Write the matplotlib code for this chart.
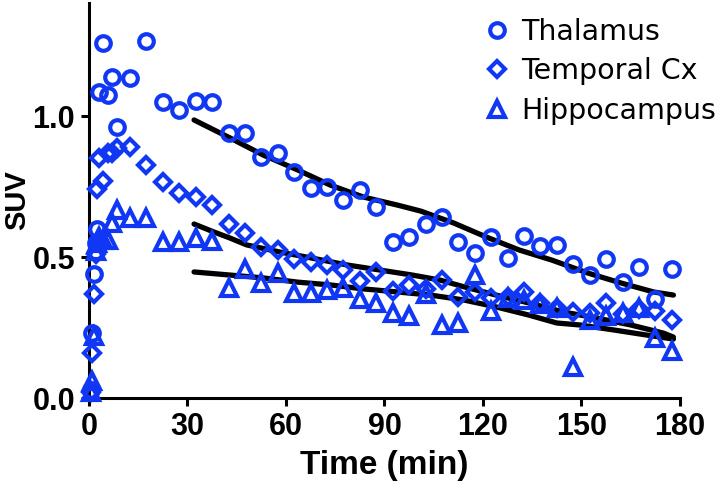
import matplotlib.pyplot as plt

# frame mid-times (min)
time = [0.5, 1.0, 1.5, 2.0, 2.5, 3.0, 4.3, 5.8, 7.0, 8.5, 12.5, 17.5,
        22.5, 27.5, 32.5, 37.5, 42.5, 47.5, 52.5, 57.5, 62.5, 67.5, 72.5,
        77.5, 82.5, 87.5, 92.5, 97.5, 102.5, 107.5, 112.5, 117.5, 122.5,
        127.5, 132.5, 137.5, 142.5, 147.5, 152.5, 157.5, 162.5, 167.5,
        172.5, 177.5]

thalamus = [0.03, 0.23, 0.44, 0.55, 0.60, 1.085, 1.26, 1.075, 1.14, 0.96, 1.135, 1.265,
            1.05, 1.02, 1.055, 1.05, 0.94, 0.94, 0.855, 0.869, 0.80, 0.745, 0.748,
            0.703, 0.738, 0.677, 0.553, 0.571, 0.617, 0.642, 0.553, 0.516, 0.571,
            0.498, 0.576, 0.539, 0.543, 0.477, 0.436, 0.493, 0.411, 0.465, 0.35, 0.456]

temporal = [0.02, 0.16, 0.37, 0.51, 0.74, 0.85, 0.77, 0.87, 0.87, 0.887, 0.89, 0.826,
            0.766, 0.727, 0.713, 0.684, 0.618, 0.585, 0.535, 0.525, 0.493, 0.482, 0.47,
            0.455, 0.415, 0.447, 0.38, 0.40, 0.387, 0.418, 0.358, 0.376, 0.355,
            0.358, 0.376, 0.338, 0.319, 0.305, 0.30, 0.337, 0.297, 0.315, 0.31, 0.275]

hippocampus = [0.02, 0.06, 0.22, 0.52, 0.55, 0.57, 0.56, 0.56, 0.62, 0.667, 0.64, 0.64,
               0.553, 0.553, 0.567, 0.557, 0.39, 0.457, 0.408, 0.445, 0.372, 0.372, 0.383,
               0.39, 0.352, 0.337, 0.30, 0.29, 0.37, 0.259, 0.266, 0.436, 0.308,
               0.355, 0.348, 0.335, 0.32, 0.11, 0.275, 0.29, 0.30, 0.318, 0.213, 0.165]

# fitted curves (black)
thal_fit_t = [32, 43, 53, 63.5, 73.5, 83.5, 94, 101, 111, 121, 131, 141, 152, 162, 172, 178]
thal_fit = [0.986, 0.922, 0.862, 0.809, 0.755, 0.713, 0.684, 0.663, 0.621, 0.571,
            0.525, 0.489, 0.443, 0.408, 0.376, 0.365]

temp_fit_t = [32, 38, 43, 48, 58, 68, 78.5, 88.5, 98.5, 107, 114, 124, 134, 144.5,
              154.5, 165, 175, 178]
temp_fit = [0.617, 0.589, 0.567, 0.543, 0.518, 0.496, 0.472, 0.454, 0.436, 0.418,
            0.395, 0.365, 0.337, 0.305, 0.284, 0.259, 0.230, 0.216]

hipp_fit_t = [32, 43, 53, 63.5, 73.5, 83.5, 94, 104, 114, 124, 134, 142.5, 149.5,
              160, 170, 178]
hipp_fit = [0.447, 0.436, 0.426, 0.411, 0.401, 0.387, 0.376, 0.365, 0.348, 0.323,
            0.294, 0.266, 0.259, 0.241, 0.223, 0.209]

blue = "#1038F4"
bold_font = ["Liberation Sans Narrow", "Liberation Sans"]

fig = plt.figure(figsize=(7.2, 4.88), dpi=100)
ax = fig.add_axes([0.1236, 0.1844, 0.8208, 0.809])

for t, y in [(thal_fit_t, thal_fit), (temp_fit_t, temp_fit), (hipp_fit_t, hipp_fit)]:
    ax.plot(t, y, color="black", lw=3.8, solid_capstyle="round", zorder=2)

mk = dict(ls="none", mfc="none", mec=blue, mew=3.0, clip_on=False, zorder=3)
ax.plot(time, thalamus, marker="o", ms=10.5, label="Thalamus", **mk)
ax.plot(time, temporal, marker="D", ms=8.5, label="Temporal Cx", **mk)
ax.plot(time, hippocampus, marker="^", ms=11, label="Hippocampus", **mk)

ax.set_xlim(0, 180)
ax.set_ylim(0, 1.4)
ax.set_xticks([0, 30, 60, 90, 120, 150, 180])
ax.set_yticks([0.0, 0.5, 1.0])
ax.set_yticklabels(["0.0", "0.5", "1.0"])

for s in ["top", "right"]:
    ax.spines[s].set_visible(False)
for s in ["left", "bottom"]:
    ax.spines[s].set_linewidth(2.2)
ax.tick_params(width=2.2, length=6, labelsize=22, pad=4)
for lab in ax.get_xticklabels() + ax.get_yticklabels():
    lab.set_fontweight("bold")
    lab.set_family(bold_font)

ax.set_xlabel("Time (min)", fontsize=24, fontweight="bold", family=bold_font, labelpad=6)
ax.set_ylabel("SUV", fontsize=21, fontweight="bold", family=bold_font)
ax.yaxis.set_label_coords(-0.098, 0.5)

leg = ax.legend(loc="upper left", bbox_to_anchor=(483 / 720, 1 - 18 / 488),
                bbox_transform=fig.transFigure, frameon=False, fontsize=20.5,
                handlelength=1.0, handletextpad=0.33, labelspacing=0.4,
                borderpad=0, borderaxespad=0, numpoints=1)

plt.savefig("out.png", dpi=100)
